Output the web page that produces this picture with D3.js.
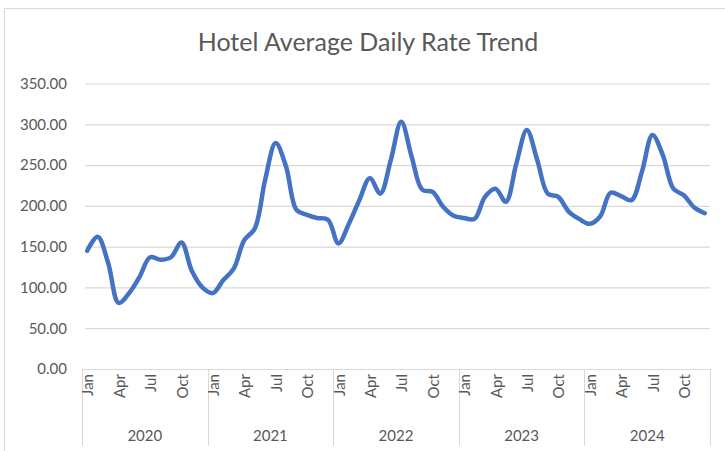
<!DOCTYPE html>
<html>
<head>
<meta charset="utf-8">
<script src="https://cdn.jsdelivr.net/npm/d3@7"></script>
<style>
  body { margin: 0; background: #fff; }
  text { font-family: "Lato", "Open Sans", sans-serif; fill: #595959; }
</style>
</head>
<body>
<div id="chart"></div>
<script>
var years = ["2020", "2021", "2022", "2023", "2024"];
var months = ["Jan", "Feb", "Mar", "Apr", "May", "Jun", "Jul", "Aug", "Sep", "Oct", "Nov", "Dec"];
var shownMonths = ["Jan", "Apr", "Jul", "Oct"];
var yTicks = [0, 50, 100, 150, 200, 250, 300, 350];

// average daily rate, one value per month, Jan 2020 .. Dec 2024
var rate2020 = [145, 162, 130, 81, 93, 113, 137, 134, 137, 155, 120, 100];
var rate2021 = [93, 109, 123, 158, 172, 232, 277, 248, 195, 189, 185, 183];
var rate2022 = [154, 178, 207, 234, 215, 256, 303, 260, 220, 217, 199, 188];
var rate2023 = [185, 184, 211, 221, 205, 252, 293, 256, 215, 211, 193, 184];
var rate2024 = [178, 187, 216, 212, 207, 242, 287, 262, 221, 213, 198, 191];

var rates = [rate2020, rate2021, rate2022, rate2023, rate2024];
var data = [];
years.forEach(function(yr, yi) {
    months.forEach(function(m, mi) {
        data.push({ key: yr + "-" + m, year: yr, month: m, value: rates[yi][mi] });
    });
});

var width = 725, height = 451;
var plotLeft = 82, plotRight = 710, plotTop = 83.5, plotBottom = 369;

var svg = d3.select("#chart")
            .append("svg")
            .attr("width", width)
            .attr("height", height);

// chart frame
svg.append("rect")
    .attr("x", 4.5)
    .attr("y", 8.5)
    .attr("width", 740)
    .attr("height", 460)
    .attr("fill", "none")
    .attr("stroke", "#d9d9d9");

svg.append("text")
    .attr("x", 368)
    .attr("y", 51)
    .attr("text-anchor", "middle")
    .attr("font-size", "25px")
    .text("Hotel Average Daily Rate Trend");

var x = d3.scaleBand()
          .domain(data.map(function(d) { return d.key; }))
          .range([plotLeft, plotRight]);
var y = d3.scaleLinear()
          .domain([0, 350])
          .range([plotBottom, plotTop]);

// gridlines + y labels
var yAxis = svg.append("g")
    .attr("transform", "translate(" + plotLeft + ",0)")
    .call(d3.axisLeft(y).tickValues(yTicks).tickFormat(d3.format(".2f"))
            .tickSize(-(plotRight - plotLeft)).tickPadding(15));
yAxis.select(".domain").remove();
yAxis.selectAll(".tick line")
    .attr("stroke", "#d9d9d9")
    .attr("stroke-width", 1.2)
    .attr("x1", 3);
yAxis.selectAll(".tick text")
    .attr("font-size", "15px")
    .attr("fill", "#595959")
    .attr("font-family", "Lato, sans-serif");

// category axis
var axis = svg.append("g");
axis.append("line")
    .attr("x1", plotLeft).attr("x2", plotRight)
    .attr("y1", plotBottom + 0.5).attr("y2", plotBottom + 0.5)
    .attr("stroke", "#d9d9d9");

var yearEdges = years.map(function(yr) { return x(yr + "-Jan"); }).concat([plotRight]);
axis.selectAll(".yearline")
    .data(yearEdges)
    .enter()
    .append("line")
    .attr("x1", function(d) { return Math.round(d) + 0.5; })
    .attr("x2", function(d) { return Math.round(d) + 0.5; })
    .attr("y1", plotBottom)
    .attr("y2", 446)
    .attr("stroke", "#d9d9d9");

axis.selectAll(".month")
    .data(data.filter(function(d) { return shownMonths.indexOf(d.month) >= 0; }))
    .enter()
    .append("text")
    .attr("transform", function(d) {
        return "translate(" + (x(d.key) + x.bandwidth() / 2 + 1) + ",374) rotate(-90)";
    })
    .attr("dy", "0.35em")
    .attr("text-anchor", "end")
    .attr("font-size", "15px")
    .text(function(d) { return d.month; });

axis.selectAll(".year")
    .data(years)
    .enter()
    .append("text")
    .attr("x", function(d, i) { return (yearEdges[i] + yearEdges[i + 1]) / 2; })
    .attr("y", 441)
    .attr("text-anchor", "middle")
    .attr("font-size", "15px")
    .text(function(d) { return d; });

// the series
svg.append("path")
    .datum(data)
    .attr("fill", "none")
    .attr("stroke", "#4472c4")
    .attr("stroke-width", 4.5)
    .attr("stroke-linecap", "round")
    .attr("stroke-linejoin", "round")
    .attr("d", d3.line()
                 .x(function(d) { return x(d.key) + x.bandwidth() / 2; })
                 .y(function(d) { return y(d.value); })
                 .curve(d3.curveCatmullRom.alpha(0.5)));
</script>
</body>
</html>
